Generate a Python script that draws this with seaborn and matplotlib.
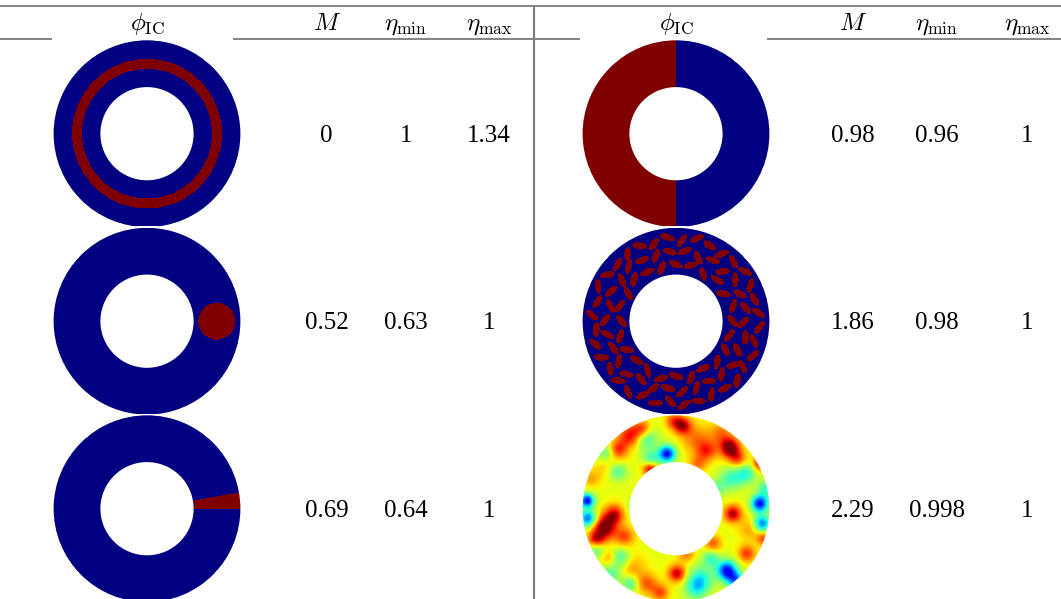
import numpy as np
import matplotlib
matplotlib.use('Agg')
import matplotlib.pyplot as plt
from matplotlib.patches import Circle
import seaborn as sns

sns.set_theme(style='white')
plt.rcParams['mathtext.fontset'] = 'cm'
plt.rcParams['font.family'] = ['Liberation Serif', 'DejaVu Serif']

# Table values
headers = [r'$\phi_{\rm IC}$', r'$M$', r'$\eta_{\min}$', r'$\eta_{\max}$']
left_M = ['0', '0.52', '0.69']
left_eta_min = ['1', '0.63', '0.64']
left_eta_max = ['1.34', '1', '1']
right_M = ['0.98', '1.86', '2.29']
right_eta_min = ['0.96', '0.98', '0.998']
right_eta_max = ['1', '1', '1']

# Initial conditions (pixel units, annulus radii 47..93)
ring_band = [65, 75]
blob = [70, 0, 18.5]          # distance, angle (deg), radius
wedge_deg = 10
ell_rings = [57, 70, 83]
ell_counts = [24, 30, 36]
ell_tilts = [40, -35, 50, 15, -45, 30, -20, 55, -10, 35, 60, -25]
ell_shift = [0, 2.5, -2, 1.5, -2.5, 1, 0, -1.5]
# hot / cold spots of the noisy field: dx, dy, amplitude, width
spots_dx = [-72, -62, -80, -52, 54, 62, 7, -2, -46, -58, -34, -26, 31, 22,
            57, 88, 1, -16, 71, 84, 37, -29, 10, -66,
            -65, 20, 75, -45, 45, -85,
            -9, -89, -88, 84, 86, 51, 60, -59, -56, -80, 70, 20, -46, -25, 35, 40, -40,
            -30, 55, -70, 25, -65, 90]
spots_dy = [19, 6, 32, 28, -61, -50, -83, -88, -73, -60, -80, -40, -58, -45,
            5, 30, 65, 84, 45, -45, 35, 75, 45, 50,
            -45, -70, 20, 60, -75, -30,
            -55, -8, 10, -5, 15, 62, 72, -38, 49, 40, -35, 80, 75, -50, 50, -20, 0,
            -70, -30, -55, 70, 65, -20]
spots_amp = [0.4, 0.3, 0.3, 0.2, 0.4, 0.2, 0.3, 0.2, 0.28, 0.22, 0.22, 0.3, 0.22, 0.15,
             0.33, 0.2, 0.32, 0.2, 0.22, 0.25, 0.18, 0.18, 0.15, 0.15,
             0.15, 0.15, 0.12, 0.12, 0.15, 0.1,
             -0.5, -0.5, -0.4, -0.5, -0.4, -0.5, -0.35, -0.25, -0.22, -0.2, -0.22, -0.2, -0.2, -0.2, -0.2, -0.15, -0.15,
             -0.2, -0.2, -0.2, -0.22, -0.18, -0.2]
spots_w = [8, 7, 6, 7, 7, 6, 6, 6, 8, 6, 6, 5, 7, 6,
           6, 5, 6, 6, 6, 5, 6, 7, 6, 6,
           10, 10, 8, 10, 8, 6,
           6, 5, 6, 6, 6, 7, 6, 7, 7, 6, 7, 8, 6, 6, 6, 6, 6,
           8, 8, 7, 9, 8, 6]

W, H = 1061, 599
R_OUT, R_IN = 93, 47
N = 400
xs = np.linspace(-R_OUT - 2, R_OUT + 2, N)
X, Y = np.meshgrid(xs, xs)      # Y grows downward (heatmap rows)
RR = np.hypot(X, Y)
TH = np.degrees(np.arctan2(-Y, X))
inside = (RR >= R_IN - 1) & (RR <= R_OUT + 1)


def field_ring():
    return ((RR >= ring_band[0]) & (RR <= ring_band[1])).astype(float)


def field_blob():
    bx = blob[0] * np.cos(np.radians(blob[1]))
    by = -blob[0] * np.sin(np.radians(blob[1]))
    return (np.hypot(X - bx, Y - by) <= blob[2]).astype(float)


def field_wedge():
    return ((TH >= 0) & (TH <= wedge_deg) & (RR > R_IN)).astype(float)


def field_half():
    return (X < 0).astype(float)


def field_ellipses():
    f = np.zeros_like(X)
    k = 0
    for ri, (r, n) in enumerate(zip(ell_rings, ell_counts)):
        for j in range(n):
            th = 2 * np.pi * j / n + ri * 0.4
            rr = r + ell_shift[k % len(ell_shift)]
            cx, cy = rr * np.cos(th), -rr * np.sin(th)
            al = th + np.pi / 2 + np.radians(ell_tilts[k % len(ell_tilts)])
            k += 1
            u = (X - cx) * np.cos(al) + (-(Y - cy)) * np.sin(al)
            v = -(X - cx) * np.sin(al) + (-(Y - cy)) * np.cos(al)
            f[(u / 7.5) ** 2 + (v / 3.4) ** 2 <= 1] = 1
    return f


def field_noise():
    f = np.full_like(X, 0.63)
    for dx, dy, a, w in zip(spots_dx, spots_dy, spots_amp, spots_w):
        f += a * np.exp(-((X - dx) ** 2 + (Y - dy) ** 2) / (2 * w ** 2))
    return np.clip(f, 0, 1)


fig = plt.figure(figsize=(W / 100, H / 100), dpi=100)
ax = fig.add_axes([0, 0, 1, 1])
ax.set_xlim(0, W)
ax.set_ylim(H, 0)
ax.set_axis_off()

rule = '#7a7a7a'
ax.hlines(6, 0, W, color=rule, lw=1.3)
for x0, x1 in [(0, 52), (233, 533), (533, 580), (767, W)]:
    ax.hlines(38.5, x0, x1, color=rule, lw=1.3)
ax.vlines(533.5, 6, H, color=rule, lw=1.5)

head_x = [[147, 326.7, 406, 489], [676, 853, 937, 1027]]
for hx in head_x:
    for x, t in zip(hx, headers):
        ax.text(x, 30, t, ha='center', va='baseline', fontsize=18, color='black')

row_y = [133.7, 321.2, 508.7]
cols = [[left_M, left_eta_min, left_eta_max], [right_M, right_eta_min, right_eta_max]]
for hx, vals in zip(head_x, cols):
    for i, y in enumerate(row_y):
        for x, v in zip(hx[1:], vals):
            ax.text(x, y + 8, v[i], ha='center', va='baseline', fontsize=18, color='black')

fields = [[field_ring(), field_blob(), field_wedge()],
          [field_half(), field_ellipses(), field_noise()]]
span = R_OUT + 2
for hx, col in zip(head_x, fields):
    cx = hx[0]
    for y, f in zip(row_y, col):
        iax = fig.add_axes([(cx - span) / W, 1 - (y + span) / H, 2 * span / W, 2 * span / H])
        sns.heatmap(f, mask=~inside, cmap='jet', vmin=0, vmax=1, cbar=False,
                    xticklabels=False, yticklabels=False, ax=iax)
        iax.set_aspect('equal')
        iax.set_axis_off()
        # smooth the annulus edges
        c = N / 2
        s = N / (2 * span)
        iax.add_patch(Circle((c, c), (R_OUT + 1.5) * s, fill=False, ec='white', lw=1.6))
        iax.add_patch(Circle((c, c), (R_IN - 1.5) * s, fill=False, ec='white', lw=1.6))

fig.savefig('out.png', dpi=100)
